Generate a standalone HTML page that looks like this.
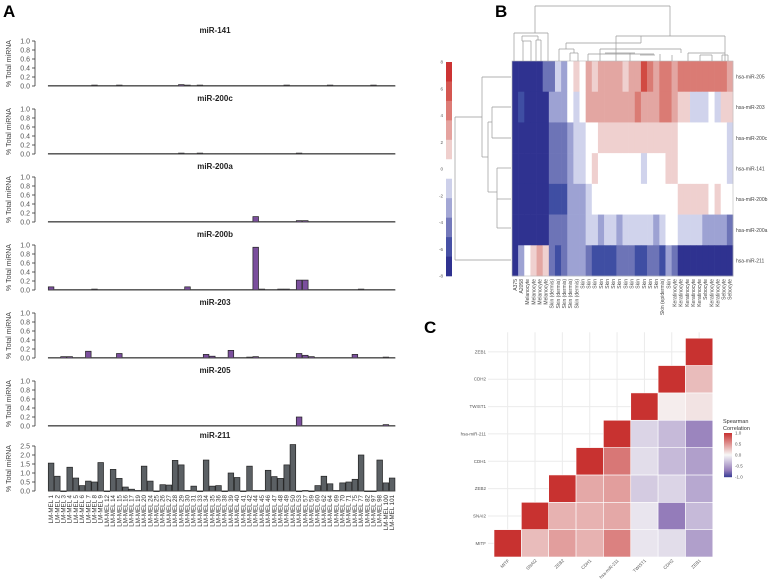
<!DOCTYPE html>
<html><head><meta charset="utf-8"><style>
html,body{margin:0;padding:0;background:#fff;}
svg{display:block;font-family:"Liberation Sans",Arial,sans-serif;}
</style></head><body>
<svg id="fig" width="768" height="584" viewBox="0 0 768 584" xmlns="http://www.w3.org/2000/svg">
<text x="3" y="17" font-size="17" font-weight="bold">A</text>
<text x="495" y="17" font-size="17" font-weight="bold">B</text>
<text x="424" y="333" font-size="17" font-weight="bold">C</text>
<g id="panelA"></g>
<g id="panelB"></g>
<g id="panelC"></g>
</svg>
<script>
// ---------- Panel A data ----------
const cellLines = ["1","2","3","4","5","6","7","8","9","12","14","15","16","17","19","20","24","25","26","27","28","29","30","31","33","34","35","36","38","39","40","41","42","44","45","46","47","48","49","50","53","57","59","60","62","64","69","70","71","75","77","82","97","98","100","101"];
const mirNames = ["miR-141","miR-200c","miR-200a","miR-200b","miR-203","miR-205","miR-211"];
const mir141 = [0.01,0.01,0.01,0.01,0.01,0.01,0.01,0.02,0.01,0.01,0.01,0.02,0.01,0.01,0.01,0.01,0.01,0.01,0.01,0.01,0.01,0.03,0.02,0.01,0.02,0.01,0.01,0.01,0.01,0.01,0.01,0.01,0.01,0.01,0.01,0.01,0.01,0.01,0.02,0.01,0.01,0.01,0.01,0.01,0.01,0.02,0.01,0.01,0.01,0.01,0.01,0.01,0.02,0.01,0.01,0.01];
const mir200c = [0.01,0.01,0.01,0.01,0.01,0.01,0.01,0.01,0.01,0.01,0.01,0.01,0.01,0.01,0.01,0.01,0.01,0.01,0.01,0.01,0.01,0.02,0.01,0.01,0.02,0.01,0.01,0.01,0.01,0.01,0.01,0.01,0.01,0.01,0.01,0.01,0.01,0.01,0.01,0.01,0.02,0.01,0.01,0.01,0.01,0.01,0.01,0.01,0.01,0.01,0.01,0.01,0.01,0.01,0.01,0.01];
const mir200a = [0.01,0.01,0.01,0.01,0.01,0.01,0.01,0.01,0.01,0.01,0.01,0.01,0.01,0.01,0.01,0.01,0.01,0.01,0.01,0.01,0.01,0.01,0.01,0.01,0.01,0.01,0.01,0.01,0.01,0.01,0.01,0.01,0.01,0.12,0.01,0.01,0.01,0.01,0.01,0.01,0.03,0.03,0.01,0.01,0.01,0.01,0.01,0.01,0.01,0.01,0.01,0.01,0.01,0.01,0.01,0.01];
const mir200b = [0.07,0.01,0.01,0.01,0.01,0.01,0.01,0.02,0.01,0.01,0.01,0.01,0.01,0.01,0.01,0.01,0.01,0.01,0.01,0.01,0.01,0.01,0.07,0.01,0.01,0.01,0.01,0.01,0.01,0.01,0.01,0.01,0.01,0.95,0.02,0.01,0.01,0.02,0.02,0.01,0.22,0.22,0.01,0.01,0.01,0.01,0.01,0.01,0.01,0.01,0.02,0.01,0.01,0.01,0.01,0.01];
const mir203 = [0.01,0.01,0.03,0.03,0.01,0.01,0.15,0.01,0.01,0.01,0.01,0.1,0.01,0.01,0.01,0.01,0.01,0.01,0.01,0.01,0.01,0.01,0.01,0.01,0.01,0.08,0.04,0.01,0.01,0.17,0.01,0.01,0.02,0.03,0.01,0.01,0.01,0.01,0.01,0.01,0.1,0.06,0.03,0.01,0.01,0.01,0.01,0.01,0.01,0.08,0.01,0.01,0.01,0.01,0.02,0.01];
const mir205 = [0.01,0.01,0.01,0.01,0.01,0.01,0.01,0.01,0.01,0.01,0.01,0.01,0.01,0.01,0.01,0.01,0.01,0.01,0.01,0.01,0.01,0.01,0.01,0.01,0.01,0.01,0.01,0.01,0.01,0.01,0.01,0.01,0.01,0.01,0.01,0.01,0.01,0.01,0.01,0.01,0.2,0.01,0.01,0.01,0.01,0.01,0.01,0.01,0.01,0.01,0.01,0.01,0.01,0.01,0.03,0.01];
const mir211 = [1.55,0.82,0,1.32,0.72,0.3,0.55,0.5,1.58,0,1.2,0.7,0.22,0.1,0.03,1.38,0.55,0,0.35,0.33,1.7,1.45,0.03,0.27,0,1.72,0.27,0.3,0,1.0,0.75,0,1.38,0.03,0.03,1.15,0.8,0.7,1.45,2.58,0,0.03,0,0.3,0.82,0.4,0.03,0.45,0.5,0.65,2.0,0,0,1.72,0.45,0.72];
const ticksSmall = ["0.0","0.2","0.4","0.6","0.8","1.0"];
const ticksBig = ["0.0","0.5","1.0","1.5","2.0","2.5"];

// ---------- Panel B data ----------
const hmRows = ["hsa-miR-205","hsa-miR-203","hsa-miR-200c","hsa-miR-141","hsa-miR-200b","hsa-miR-200a","hsa-miR-211"];
const hmCols = ["A375","A2058","Melanocyte","Melanocyte","Melanocyte","Melanocyte","Skin (dermis)","Skin (dermis)","Skin (dermis)","Skin (dermis)","Skin (dermis)","Skin","Skin","Skin","Skin","Skin","Skin","Skin","Skin","Skin","Skin","Skin","Skin","Skin","Skin (epidermis)","Skin","Keratinocyte","Keratinocyte","Keratinocyte","Keratinocyte","Keratinocyte","Sebocyte","Keratinocyte","Keratinocyte","Sebocyte","Sebocyte"];
const hm205 = [-8,-8,-8,-8,-8,-5,-5,-1,-3,0,1,0,3,1,3,3,3,3,1,3,3,7,5,3,5,5,3,5,5,5,5,5,5,5,5,3];
const hm203 = [-8,-6,-8,-8,-8,-8,-3,-3,-3,0,-1,0,3,3,3,3,3,3,3,3,5,3,3,3,5,5,3,1,1,-1,-1,-1,0,-1,1,1];
const hm200c = [-8,-8,-8,-8,-8,-8,-5,-5,-5,-3,-1,-1,0,0,1,1,1,1,1,1,1,1,1,1,1,1,1,0,0,0,0,0,0,0,0,-1];
const hm141 = [-8,-8,-8,-8,-8,-8,-5,-5,-5,-3,-1,-1,0,1,0,0,0,0,0,0,0,-1,0,0,0,1,1,0,0,0,0,0,0,0,0,-1];
const hm200b = [-8,-8,-8,-8,-8,-8,-6,-6,-6,-3,-3,-3,-1,0,0,0,0,0,0,0,0,0,0,0,0,0,0,1,1,1,1,1,0,1,0,0];
const hm200a = [-8,-8,-8,-8,-8,-8,-5,-5,-5,-3,-3,-3,-1,-1,-3,-1,-1,-3,-1,-1,-1,-1,-1,-3,-1,0,0,-1,-1,-1,-1,-3,-3,-3,-3,-5];
const hm211 = [-8,-3,0,1,3,1,-5,-6,-5,-3,-3,-3,-5,-6,-6,-6,-6,-5,-5,-5,-6,-6,-5,-5,-6,-3,-5,-8,-8,-8,-8,-8,-8,-8,-8,-8];
const hmLegendTicks = ["8","6","4","2","0","-2","-4","-6","-8"];
const hmKeyBands = ["#cc3333","#d45650","#dd7c76","#e5a39f","#efcfcd","#ffffff","#cdd0ea","#a3a7d5","#7479bb","#4650a5","#2f3290"];

// ---------- Panel C data ----------
const corrVars = ["MITF","SNAI2","ZEB2","CDH1","hsa-miR-211","TWIST1","CDH2","ZEB1"];
const corrMITF = [1,0.3,0.45,0.35,0.6,-0.1,-0.15,-0.5];
const corrSNAI2 = [null,1,0.35,0.35,0.4,-0.1,-0.7,-0.35];
const corrZEB2 = [null,null,1,0.4,0.45,-0.25,-0.2,-0.45];
const corrCDH1 = [null,null,null,1,0.65,-0.15,-0.35,-0.5];
const corrMIR211 = [null,null,null,null,1,-0.2,-0.35,-0.65];
const corrTWIST1 = [null,null,null,null,null,1,0.05,0.1];
const corrCDH2 = [null,null,null,null,null,null,1,0.3];
const corrZEB1 = [null,null,null,null,null,null,null,1];
const corrLegendTicks = ["1.0","0.5","0.0","-0.5","-1.0"];

const NS="http://www.w3.org/2000/svg";
function mk(tag,attrs,parent,txt){const e=document.createElementNS(NS,tag);for(const k in attrs)e.setAttribute(k,attrs[k]);if(txt!==undefined)e.textContent=txt;parent.appendChild(e);return e;}

// ---------- Draw Panel A ----------
(function(){
  const g=document.getElementById('panelA');
  const series=[mir141,mir200c,mir200a,mir200b,mir203,mir205,mir211];
  const base0=86, step=68, h=45, x0=48, bw=6.2;
  const xs=i=>x0+i*bw;
  series.forEach((vals,si)=>{
    const big=si===6;
    const base=si===6?491:base0+si*step;
    const maxV=big?2.5:1.0;
    const ticks=big?ticksBig:ticksSmall;
    const ys=v=>base-(v/maxV)*h;
    const pg=mk('g',{},g);
    
    
    const t=mk('text',{x:215,y:base-h-8,'font-size':8,'font-weight':'bold','text-anchor':'middle',fill:'#222'},pg,mirNames[si]);
    
    
    const yl=mk('text',{transform:`translate(11,${base-h/2}) rotate(-90)`,'font-size':7,'text-anchor':'middle',fill:'#444'},pg,'% Total miRNA');
    
    
    mk('line',{x1:35,y1:base,x2:35,y2:ys(maxV),stroke:'#333','stroke-width':0.8},pg);
    ticks.forEach(tk=>{
      const y=ys(parseFloat(tk));
      mk('line',{x1:32,y1:y,x2:35,y2:y,stroke:'#333','stroke-width':0.8},pg);
      const tl=mk('text',{x:30,y:y+2.5,'font-size':7,'text-anchor':'end',fill:'#555'},pg,tk);
      
      
    });
    vals.forEach((v,i)=>{
      const y=ys(v);
      const r=mk('rect',{x:xs(i)+0.3,y:y,width:bw-0.6,height:Math.max(base-y,0.6),fill:big?'#5b6064':'#7b4f9d',stroke:'#222','stroke-width':0.7},pg);
      
      
    });
    mk('line',{x1:x0,y1:base,x2:x0+vals.length*bw,y2:base,stroke:'#444','stroke-width':0.9},pg);
  });
  cellLines.forEach((c,i)=>{
    const x=xs(i)+bw/2+2;
    const tl=mk('text',{transform:`translate(${x},495) rotate(-90)`,'font-size':6.2,'text-anchor':'end',fill:'#333'},g,'LM-MEL '+c);
    
    
  });
})();

// ---------- Draw Panel B ----------
const hmColor=v=>{const m={"-8":"#2f3290","-7":"#34399a","-6":"#3f4ea3","-5":"#6d74b7","-4":"#8589c5","-3":"#9da2d3","-2":"#b6badf","-1":"#d0d3ec","0":"#ffffff","1":"#efd0cf","2":"#eab9b6","3":"#e3a6a2","4":"#df918b","5":"#da7b74","6":"#d6625b","7":"#d14a42","8":"#cc3a33"};return m[String(Math.max(-8,Math.min(8,Math.round(v))))];};
(function(){
  const g=document.getElementById('panelB');
  const rows=[hm205,hm203,hm200c,hm141,hm200b,hm200a,hm211];
  const X0=512,Y0=61,W=221,H=215;
  const cw=W/hmCols.length, rh=H/hmRows.length;
  rows.forEach((vals,r)=>{
    vals.forEach((v,c)=>{
      const e=mk('rect',{x:X0+c*cw,y:Y0+r*rh,width:cw+0.3,height:rh+0.3,fill:hmColor(v)},g);
      
      
    });
    const l=mk('text',{x:X0+W+3,y:Y0+r*rh+rh/2+2,'font-size':5,fill:'#444'},g,hmRows[r]);
    
    
  });
  mk('rect',{x:X0,y:Y0,width:W,height:H,fill:'none',stroke:'#bbb','stroke-width':0.6},g);
  hmCols.forEach((c,i)=>{
    const l=mk('text',{transform:`translate(${X0+i*cw+cw/2+1.8},${Y0+H+3}) rotate(-90)`,'font-size':5,'text-anchor':'end',fill:'#444'},g,c);
    
    
  });
  // color key
  const kx=446,ky=62,kh=214,kw=6;
  const bh=kh/hmKeyBands.length;
  hmKeyBands.forEach((col,i)=>{
    const e=mk('rect',{x:kx,y:ky+i*bh,width:kw,height:bh+0.3,fill:col},g);
    
    
  });
  hmLegendTicks.forEach((t,i)=>{
    const y=ky+i*kh/8;
    const l=mk('text',{x:kx-3,y:y+1.5,'font-size':4.5,'text-anchor':'end',fill:'#555'},g,t);
    
    
  });
  // dendrograms (tree structure)
  const dg=mk('g',{stroke:'#999','stroke-width':0.7,fill:'none'},g);
  
  
  const segs=[[535,6,670,6],[535,6,535,33],[670,6,670,36],[514,33,548,33],[514,33,514,61],[548,33,548,61],[522,36,538,36],[522,36,522,41],[538,36,538,40],[523,41,523,61],[531,41,531,61],[536,40,536,61],[541,40,541,61],[522,41,531,41],[536,40,541,40],
  [566,43,641,43],[566,43,566,49],[641,43,641,36],[616,36,725,36],[616,36,616,61],[725,36,725,61],
  [559,49,574,49],[559,49,559,61],[574,49,574,53],[570,53,578,53],[570,53,570,61],[578,53,578,61],
  [588,54,654,54],[588,54,588,61],[600,49,681,49],[605,53,635,53],[630,53,630,61],[640,55,655,55],[681,49,681,53],[688,53,725,53],[688,53,688,61],[700,55,712,55],[700,55,700,61],[712,55,712,61],[722,55,728,55],[722,55,722,61],[728,55,728,61],[600,49,600,61],[660,54,660,61],[672,55,672,61]];
  segs.forEach(s=>mk('line',{x1:s[0],y1:s[1],x2:s[2],y2:s[3]},dg));
  const rg=mk('g',{stroke:'#999','stroke-width':0.7,fill:'none'},g);
  
  
  const rsegs=[[455,117,455,260],[455,260,511,260],[455,117,482,117],[482,77,482,157],[482,77,511,77],[482,157,488,157],[488,122,488,192],[488,122,492,122],[492,107,492,138],[492,107,511,107],[492,138,511,138],[488,192,497,192],[497,168,497,228],[497,168,511,168],[497,199,511,199],[497,228,511,228]];
  rsegs.forEach(s=>mk('line',{x1:s[0],y1:s[1],x2:s[2],y2:s[3]},rg));
})();

// ---------- Draw Panel C ----------
function corrColor(v){
  let a,b,t;
  if(v>=0){a=[247,247,247];b=[200,50,48];t=v;}
  else{t=-v; if(t<=0.7){a=[247,247,247];b=[148,124,186];t=t/0.7;}else{a=[148,124,186];b=[58,62,150];t=(t-0.7)/0.3;}}
  const c=a.map((x,i)=>Math.round(x+(b[i]-x)*t));
  return `rgb(${c[0]},${c[1]},${c[2]})`;
}
(function(){
  const g=document.getElementById('panelC');
  const rows=[corrMITF,corrSNAI2,corrZEB2,corrCDH1,corrMIR211,corrTWIST1,corrCDH2,corrZEB1];
  const X0=494,Ybot=557,cs=27.35,n=corrVars.length;
  for(let i=0;i<n;i++){
    mk('line',{x1:X0+cs*i+cs/2,y1:Ybot-n*cs-6,x2:X0+cs*i+cs/2,y2:Ybot,stroke:'#ebebeb','stroke-width':1},g);
    mk('line',{x1:X0-6,y1:Ybot-cs*i-cs/2,x2:X0+n*cs,y2:Ybot-cs*i-cs/2,stroke:'#ebebeb','stroke-width':1},g);
  }
  rows.forEach((vals,r)=>{
    vals.forEach((v,c)=>{
      if(v===null)return;
      const e=mk('rect',{x:X0+c*cs,y:Ybot-(r+1)*cs,width:cs,height:cs,fill:corrColor(v),stroke:'#fff','stroke-width':0.6},g);
      
      
    });
  });
  corrVars.forEach((name,i)=>{
    const yl=mk('text',{x:X0-8,y:Ybot-cs*i-cs/2+1.5,'font-size':4.5,'text-anchor':'end',fill:'#555'},g,name);
    
    
    const xl=mk('text',{transform:`translate(${X0+cs*i+cs/2+2},${Ybot+4}) rotate(-45)`,'font-size':4.5,'text-anchor':'end',fill:'#555'},g,name);
    
    
  });
  const lt=mk('text',{x:723,y:423,'font-size':5.5,fill:'#333'},g,'Spearman');
  
  
  mk('text',{x:723,y:430,'font-size':5.5,fill:'#333'},g,'Correlation');
  const ky=433,kh=44,kx=724;
  for(let k=0;k<44;k++){
    const v=1-2*(k+0.5)/44;
    mk('rect',{x:kx,y:ky+k,width:8,height:1.2,fill:corrColor(v)},g);
  }
  corrLegendTicks.forEach((t,i)=>{
    const y=ky+i*kh/4;
    const l=mk('text',{x:735,y:y+1.5,'font-size':4.5,fill:'#555'},g,t);
    
    
  });
})();
</script>
</body></html>
